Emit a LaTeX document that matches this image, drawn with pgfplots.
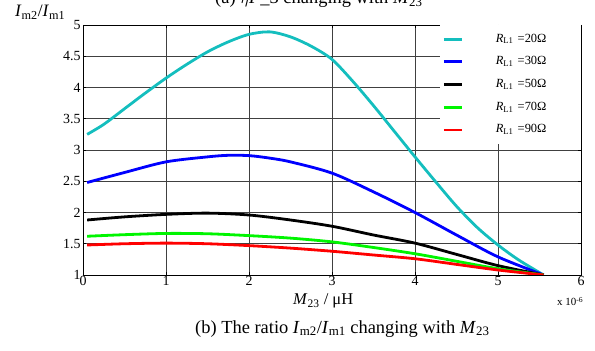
\documentclass[border=0pt]{standalone}
\usepackage{pgfplots}
\pgfplotsset{compat=1.18}
\usepackage{fontspec}
\setmainfont{Liberation Serif}
\definecolor{ccyan}{RGB}{20,190,190}
\definecolor{cblue}{RGB}{0,0,255}
\definecolor{cgreen}{RGB}{0,245,0}
\definecolor{cred}{RGB}{255,0,0}
\begin{document}
\begin{tikzpicture}
\begin{axis}[
  at={(83bp,76bp)}, anchor=south west,
  width=498bp, height=250bp, scale only axis,
  xmin=0, xmax=6, ymin=1, ymax=5,
  xtick={0,1,2,3,4,5,6},
  ytick={1,1.5,2,2.5,3,3.5,4,4.5,5},
  yticklabels={1,1.5,2,2.5,3,3.5,4,4.5,5},
  grid=major,
  grid style={black!75, line width=0.6bp},
  axis line style={black, line width=0.9bp},
  tick style={black, line width=0.6bp},
  major tick length=3bp,
  tick align=inside,
  /pgf/number format/assume math mode=true,
  tick label style={font=\fontsize{14}{14}\selectfont},
  xticklabel style={yshift=2bp},
  yticklabel style={xshift=1bp},
  legend style={at={(rel axis cs:1,1)}, anchor=north east, draw=none, fill=white,
    inner xsep=3bp, inner ysep=5.5bp, row sep=5.7bp,
    font=\fontsize{12.5}{12.5}\selectfont,
    nodes={text height=8.5bp, text depth=2.5bp, inner ysep=3bp, text width=80bp, align=left},
    /tikz/every odd column/.append style={column sep=30.5bp}},
  legend cell align=left,
  legend image code/.code={\draw[#1] (0bp,0bp) -- (18bp,0bp);},
]
\addplot[ccyan, line width=2.8bp, smooth] coordinates {
(0.05,3.25) (0.25,3.41) (0.5,3.66) (0.75,3.91) (1,4.15) (1.25,4.37) (1.5,4.57) (1.75,4.73) (2,4.85) (2.25,4.89) (2.5,4.81) (2.75,4.66) (3,4.45) (3.25,4.10) (3.5,3.71) (3.75,3.30) (4,2.89) (4.25,2.49) (4.5,2.10) (4.75,1.76) (5,1.48) (5.25,1.24) (5.55,1.0)};
\addlegendentry{\textit{R}\textsubscript{L1} =20Ω}
\addplot[cblue, line width=2.8bp, smooth] coordinates {
(0.05,2.48) (0.5,2.64) (1,2.81) (1.5,2.89) (1.75,2.915) (2,2.91) (2.25,2.87) (2.5,2.81) (3,2.63) (3.5,2.33) (4,2.0) (4.5,1.64) (5,1.29) (5.55,1.0)};
\addlegendentry{\textit{R}\textsubscript{L1} =30Ω}
\addplot[black, line width=2.8bp, smooth] coordinates {
(0.05,1.88) (0.5,1.93) (1,1.97) (1.5,1.99) (2,1.96) (2.5,1.88) (3,1.78) (3.5,1.64) (4,1.51) (4.5,1.33) (5,1.15) (5.55,1.0)};
\addlegendentry{\textit{R}\textsubscript{L1} =50Ω}
\addplot[cgreen, line width=2.8bp, smooth] coordinates {
(0.05,1.62) (0.5,1.645) (1,1.665) (1.5,1.66) (2,1.63) (2.5,1.59) (3,1.53) (3.5,1.44) (4,1.34) (4.5,1.22) (5,1.10) (5.55,1.0)};
\addlegendentry{\textit{R}\textsubscript{L1} =70Ω}
\addplot[cred, line width=2.8bp, smooth] coordinates {
(0.05,1.48) (0.5,1.50) (1,1.51) (1.5,1.50) (2,1.47) (2.5,1.43) (3,1.38) (3.5,1.32) (4,1.26) (4.5,1.17) (5,1.08) (5.55,1.0)};
\addlegendentry{\textit{R}\textsubscript{L1} =90Ω}
\end{axis}
\node[anchor=base west, inner sep=0pt, font=\fontsize{18.5}{18.5}\selectfont] at (215bp,347bp) {(a) $\eta$\textit{P}\_3 changing with \textit{M}\textsubscript{23}};
\node[anchor=base west, inner sep=0pt, font=\fontsize{17.5}{17.5}\selectfont] at (15bp,334bp) {\textit{I}\textsubscript{m2}/\textit{I}\textsubscript{m1}};
\node[anchor=base west, inner sep=0pt, font=\fontsize{16.5}{16.5}\selectfont] at (293bp,46bp) {\textit{M}\textsubscript{23} / μH};
\node[anchor=base west, inner sep=0pt, font=\fontsize{11}{11}\selectfont] at (557bp,45bp) {x 10\textsuperscript{-6}};
\node[anchor=base west, inner sep=0pt, font=\fontsize{18.5}{18.5}\selectfont] at (195bp,18bp) {(b) The ratio \textit{I}\textsubscript{m2}/\textit{I}\textsubscript{m1} changing with \textit{M}\textsubscript{23}};
\pgfresetboundingbox
\path[use as bounding box] (0,0) rectangle (595bp,351bp);
\end{tikzpicture}
\end{document}
